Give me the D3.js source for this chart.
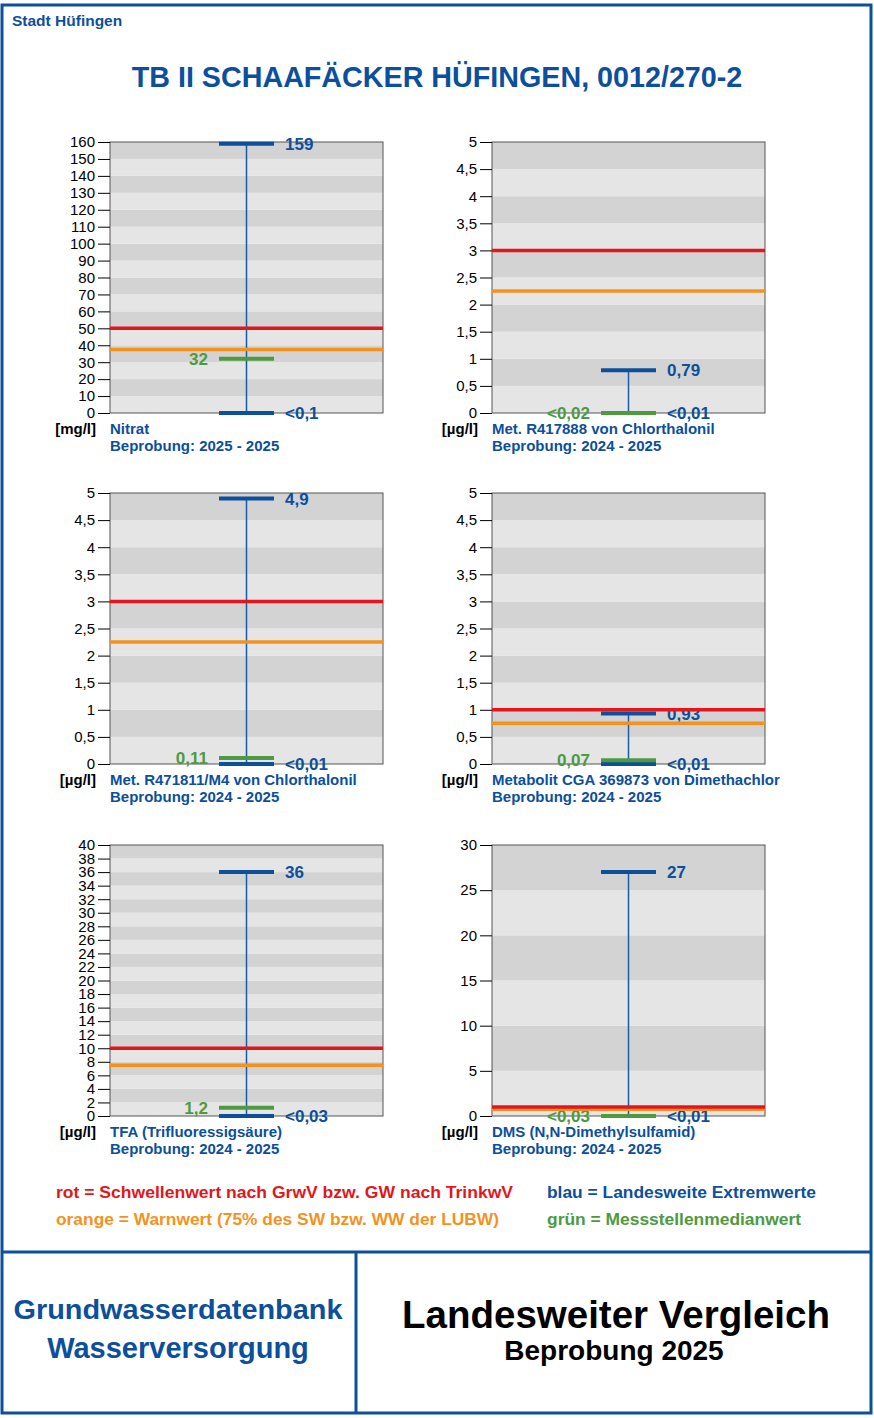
<!DOCTYPE html>
<html>
<head>
<meta charset="utf-8">
<script src="https://cdn.jsdelivr.net/npm/d3@7"></script>
<style>
  body { margin: 0; background: #fff; }
  svg { display: block; font-family: "Liberation Sans", Arial, sans-serif; }
</style>
</head>
<body>
<div id="chart"></div>
<script>
// panel data
var panelNames = ["Nitrat", "Met. R417888 von Chlorthalonil", "Met. R471811/M4 von Chlorthalonil",
  "Metabolit CGA 369873 von Dimethachlor", "TFA (Trifluoressigsäure)", "DMS (N,N-Dimethylsulfamid)"];
var panelUnits = ["[mg/l]", "[µg/l]", "[µg/l]", "[µg/l]", "[µg/l]", "[µg/l]"];
var panelPeriods = ["2025 - 2025", "2024 - 2025", "2024 - 2025", "2024 - 2025", "2024 - 2025", "2024 - 2025"];
var yMax = [160, 5, 5, 5, 40, 30];
var tickCounts = [16, 10, 10, 10, 20, 6];

// landesweite Extremwerte (blau)
var maxValues = [159, 0.79, 4.9, 0.93, 36, 27];
var maxLabels = ["159", "0,79", "4,9", "0,93", "36", "27"];
var minValues = [0, 0, 0, 0, 0, 0];
var minLabels = ["<0,1", "<0,01", "<0,01", "<0,01", "<0,03", "<0,01"];
// Messstellenmedianwert (grün)
var medianValues = [32, 0, 0.11, 0.07, 1.2, 0];
var medianLabels = ["32", "<0,02", "0,11", "0,07", "1,2", "<0,03"];
// Schwellenwert (rot) und Warnwert (orange)
var redValues = [50, 3, 3, 1, 10, 1];
var orangeValues = [37.5, 2.25, 2.25, 0.75, 7.5, 0.75];

var blue = "#0c4f9c", red = "#e3161b", orange = "#f5921f", green = "#4d9a3f";

var svg = d3.select("#chart").append("svg")
  .attr("width", 874)
  .attr("height", 1418);

// frame
svg.append("rect").attr("x", 2).attr("y", 5).attr("width", 869).attr("height", 1408)
  .attr("fill", "none").attr("stroke", blue).attr("stroke-width", 3);
svg.append("line").attr("x1", 2).attr("x2", 871).attr("y1", 1252).attr("y2", 1252)
  .attr("stroke", blue).attr("stroke-width", 3);
svg.append("line").attr("x1", 356).attr("x2", 356).attr("y1", 1252).attr("y2", 1413)
  .attr("stroke", blue).attr("stroke-width", 3);

svg.append("text").attr("x", 12).attr("y", 26)
  .attr("fill", blue).attr("font-weight", "bold").attr("font-size", 15.5)
  .text("Stadt Hüfingen");

svg.append("text").attr("x", 437).attr("y", 87).attr("text-anchor", "middle")
  .attr("fill", blue).attr("font-weight", "bold").attr("font-size", 28.7)
  .text("TB II SCHAAFÄCKER HÜFINGEN, 0012/270-2");

var colX = [110, 492], rowY = [142, 493, 845];
var plotW = 273, plotH = 271;
var fmt = function(d) { return String(d).replace(".", ","); };

panelNames.forEach(function(name, i) {
  var g = svg.append("g")
    .attr("transform", "translate(" + colX[i % 2] + "," + rowY[Math.floor(i / 2)] + ")");

  var y = d3.scaleLinear().domain([0, yMax[i]]).range([plotH, 0]);
  var ticks = y.ticks(tickCounts[i]);
  var cx = plotW / 2;

  // alternating bands, darker at the top
  var bands = d3.pairs(ticks);
  g.selectAll("rect.band").data(bands).enter().append("rect")
    .attr("class", "band")
    .attr("x", 0).attr("width", plotW)
    .attr("y", function(d) { return y(d[1]); })
    .attr("height", function(d) { return y(d[0]) - y(d[1]); })
    .attr("fill", function(d, j) { return (bands.length - 1 - j) % 2 === 0 ? "#d3d3d3" : "#e5e5e5"; });

  g.append("rect").attr("width", plotW).attr("height", plotH)
    .attr("fill", "none").attr("stroke", "#555").attr("stroke-width", 1);

  var axis = d3.axisLeft(y).tickValues(ticks).tickSize(12).tickPadding(3).tickFormat(fmt);
  var ax = g.append("g").call(axis);
  ax.select(".domain").remove();
  ax.selectAll("text").attr("font-size", 15).attr("fill", "#000")
    .attr("font-family", "Liberation Sans, Arial, sans-serif");
  ax.selectAll("line").attr("stroke", "#000");

  // whisker
  g.append("line").attr("x1", cx).attr("x2", cx)
    .attr("y1", y(maxValues[i])).attr("y2", y(minValues[i]))
    .attr("stroke", "#1b5aa5").attr("stroke-width", 1.5);

  var capW = 55;
  [[maxValues[i], maxLabels[i]], [minValues[i], minLabels[i]]].forEach(function(p) {
    g.append("line").attr("x1", cx - capW / 2).attr("x2", cx + capW / 2)
      .attr("y1", y(p[0])).attr("y2", y(p[0]))
      .attr("stroke", blue).attr("stroke-width", 4);
    g.append("text").attr("x", cx + capW / 2 + 11).attr("y", y(p[0])).attr("dy", "0.36em")
      .attr("fill", blue).attr("font-weight", "bold").attr("font-size", 17)
      .text(p[1]);
  });

  g.append("line").attr("x1", cx - capW / 2).attr("x2", cx + capW / 2)
    .attr("y1", y(medianValues[i])).attr("y2", y(medianValues[i]))
    .attr("stroke", green).attr("stroke-width", 4);
  g.append("text").attr("x", cx - capW / 2 - 11).attr("y", y(medianValues[i])).attr("dy", "0.36em")
    .attr("text-anchor", "end")
    .attr("fill", green).attr("font-weight", "bold").attr("font-size", 17)
    .text(medianLabels[i]);

  // thresholds on top
  g.append("line").attr("x1", 0).attr("x2", plotW)
    .attr("y1", y(orangeValues[i])).attr("y2", y(orangeValues[i]))
    .attr("stroke", orange).attr("stroke-width", 3.5);
  g.append("line").attr("x1", 0).attr("x2", plotW)
    .attr("y1", y(redValues[i])).attr("y2", y(redValues[i]))
    .attr("stroke", red).attr("stroke-width", 3.5);

  // captions
  g.append("text").attr("x", -14).attr("y", plotH + 21).attr("text-anchor", "end")
    .attr("font-weight", "bold").attr("font-size", 15).attr("fill", "#000")
    .text(panelUnits[i]);
  g.append("text").attr("x", 0).attr("y", plotH + 21)
    .attr("font-weight", "bold").attr("font-size", 15).attr("fill", blue)
    .text(name);
  g.append("text").attr("x", 0).attr("y", plotH + 38)
    .attr("font-weight", "bold").attr("font-size", 15).attr("fill", blue)
    .text("Beprobung: " + panelPeriods[i]);
});

// legend
var legendTexts = ["rot = Schwellenwert nach GrwV bzw. GW nach TrinkwV",
  "orange = Warnwert (75% des SW bzw. WW der LUBW)",
  "blau = Landesweite Extremwerte",
  "grün = Messstellenmedianwert"];
var legendColors = [red, orange, blue, green];
var legendWidths = [457, 443, 269, 254];
legendTexts.forEach(function(t, i) {
  svg.append("text")
    .attr("x", i < 2 ? 56 : 547)
    .attr("y", i % 2 === 0 ? 1198 : 1225)
    .attr("fill", legendColors[i]).attr("font-weight", "bold").attr("font-size", 17)
    .attr("textLength", legendWidths[i]).attr("lengthAdjust", "spacingAndGlyphs")
    .text(t);
});

// footer
svg.append("text").attr("x", 178).attr("y", 1319).attr("text-anchor", "middle")
  .attr("fill", blue).attr("font-weight", "bold").attr("font-size", 28)
  .attr("textLength", 329).attr("lengthAdjust", "spacingAndGlyphs")
  .text("Grundwasserdatenbank");
svg.append("text").attr("x", 178).attr("y", 1358).attr("text-anchor", "middle")
  .attr("fill", blue).attr("font-weight", "bold").attr("font-size", 29)
  .text("Wasserversorgung");
svg.append("text").attr("x", 616).attr("y", 1328).attr("text-anchor", "middle")
  .attr("fill", "#000").attr("font-weight", "bold").attr("font-size", 38.5)
  .text("Landesweiter Vergleich");
svg.append("text").attr("x", 614).attr("y", 1360).attr("text-anchor", "middle")
  .attr("fill", "#000").attr("font-weight", "bold").attr("font-size", 28)
  .text("Beprobung 2025");
</script>
</body>
</html>
